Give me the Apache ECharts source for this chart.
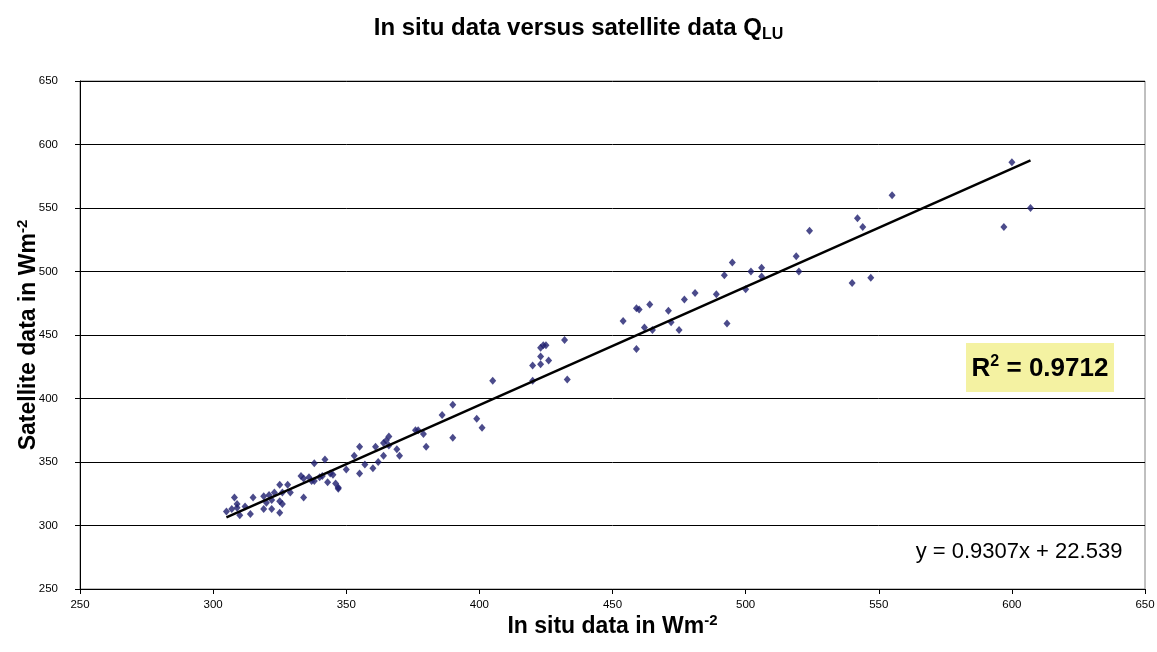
<!DOCTYPE html>
<html>
<head>
<meta charset="utf-8">
<script src="https://cdn.jsdelivr.net/npm/echarts@6/dist/echarts.min.js"></script>
<style>html,body{margin:0;padding:0;background:#fff;}#c{width:1157px;height:652px;}</style>
</head>
<body>
<div id="c"></div>
<script>
// In situ values (x) and satellite values (y)
const inSitu = [305,307,308,309,310,309,312,314,315,319,319,320,321,322,322,323,325,325,326,325,326,328,329,333,334,
  334,336,338,337,338,340,341,342,343,344,345,346,347,347,350,353,355,355,357,360,361,362,364,364,365,366,366,369,370,
  376,377,379,380,386,390,390,399,401,405,420,420,423,423,423,424,425,426,432,433,
  454,459,460,464,462,465,459,471,472,475,477,481,489,492,493,495,500,502,506,506,
  519,520,524,540,542,544,547,555,597,600,607];
const satellite = [311,313,322,317,308,314,315,309,322,323,313,318,324,313,320,326,332,319,317,310,326,332,326,339,322,
  337,338,349,335,335,338,339,352,334,341,340,333,330,329,344,355,362,341,348,345,362,350,355,365,367,370,363,360,355,
  375,375,372,362,387,395,369,384,377,414,414,426,427,433,440,442,442,430,446,415,
  461,471,470,474,456,454,439,469,460,454,478,483,482,497,459,507,486,500,503,496,
  512,500,532,491,542,535,495,560,535,586,550];
const trendSlope = 0.9307;
const trendIntercept = 22.539;
const rSquared = '0.9712';
const axisMin = 250, axisMax = 650, axisStep = 50;

const points = inSitu.map((x, i) => [x, satellite[i]]);
const xLo = Math.min(...inSitu), xHi = Math.max(...inSitu);
const trend = [[xLo, trendSlope * xLo + trendIntercept], [xHi, trendSlope * xHi + trendIntercept]];

const FONT = 'Arial, "Liberation Sans", sans-serif';
const chart = echarts.init(document.getElementById('c'), null, {renderer: 'canvas'});
chart.setOption({
  animation: false,
  backgroundColor: '#ffffff',
  title: {
    text: 'In situ data versus satellite data Q{sub|LU}',
    left: 'center', top: 8,
    textStyle: {
      fontFamily: FONT, fontSize: 24, fontWeight: 'bold', color: '#000',
      rich: { sub: { fontFamily: FONT, fontSize: 16, fontWeight: 'bold', color: '#000', verticalAlign: 'bottom', padding: [14, 0, 0, 0] } }
    }
  },
  grid: { left: 80, right: 12, top: 81, bottom: 63, show: true, borderColor: '#808080', borderWidth: 1, containLabel: false, outerBoundsMode: 'none' },
  xAxis: {
    type: 'value', min: axisMin, max: axisMax, interval: axisStep,
    name: 'In situ data in Wm{sup|-2}', nameLocation: 'middle', nameGap: 24, nameMoveOverlap: false,
    nameTextStyle: {
      fontFamily: FONT, fontSize: 23, fontWeight: 'bold', color: '#000', verticalAlign: 'top',
      rich: { sup: { fontFamily: FONT, fontSize: 15, fontWeight: 'bold', color: '#000', verticalAlign: 'top', padding: [0, 0, 12, 0] } }
    },
    axisLine: { show: true, onZero: false, lineStyle: { color: '#000', width: 1 } },
    axisTick: { show: true, inside: false, length: 5, lineStyle: { color: '#000' } },
    axisLabel: { fontFamily: FONT, fontSize: 11.5, color: '#000', margin: 10 },
    splitLine: { show: false }
  },
  yAxis: {
    type: 'value', min: axisMin, max: axisMax, interval: axisStep,
    name: 'Satellite data in Wm{sup|-2}', nameLocation: 'middle', nameGap: 38, nameMoveOverlap: false,
    nameTextStyle: {
      fontFamily: FONT, fontSize: 23, fontWeight: 'bold', color: '#000',
      rich: { sup: { fontFamily: FONT, fontSize: 15, fontWeight: 'bold', color: '#000', verticalAlign: 'top', padding: [0, 0, 12, 0] } }
    },
    axisLine: { show: true, onZero: false, lineStyle: { color: '#000', width: 1 } },
    axisTick: { show: true, inside: false, length: 5, lineStyle: { color: '#000' } },
    axisLabel: { fontFamily: FONT, fontSize: 11.5, color: '#000', margin: 22 },
    splitLine: { show: true, lineStyle: { color: '#000', width: 1 } }
  },
  series: [
    {
      type: 'scatter', data: points, symbol: 'diamond', symbolSize: [7, 8],
      itemStyle: { color: '#1E1E6E' }, z: 3
    },
    {
      type: 'line', data: trend, symbol: 'none', lineStyle: { color: '#000', width: 2.5 }, z: 4, silent: true
    }
  ],
  graphic: [
    {
      type: 'rect', left: 966, top: 343, shape: { width: 148, height: 49 },
      style: { fill: '#F4F2A2' }, z: 10
    },
    {
      type: 'text', x: 1040, y: 369, z: 11,
      style: {
        text: 'R{sup|2} = ' + rSquared,
        font: 'bold 26px ' + FONT, fill: '#000', align: 'center', verticalAlign: 'middle',
        rich: { sup: { font: 'bold 16px ' + FONT, fill: '#000', verticalAlign: 'top', padding: [0, 0, 14, 0] } }
      }
    },
    {
      type: 'text', x: 1019, y: 552, z: 11,
      style: { text: 'y = ' + trendSlope + 'x + ' + trendIntercept, font: '22px ' + FONT, fill: '#000', align: 'center', verticalAlign: 'middle' }
    }
  ]
});
</script>
</body>
</html>
